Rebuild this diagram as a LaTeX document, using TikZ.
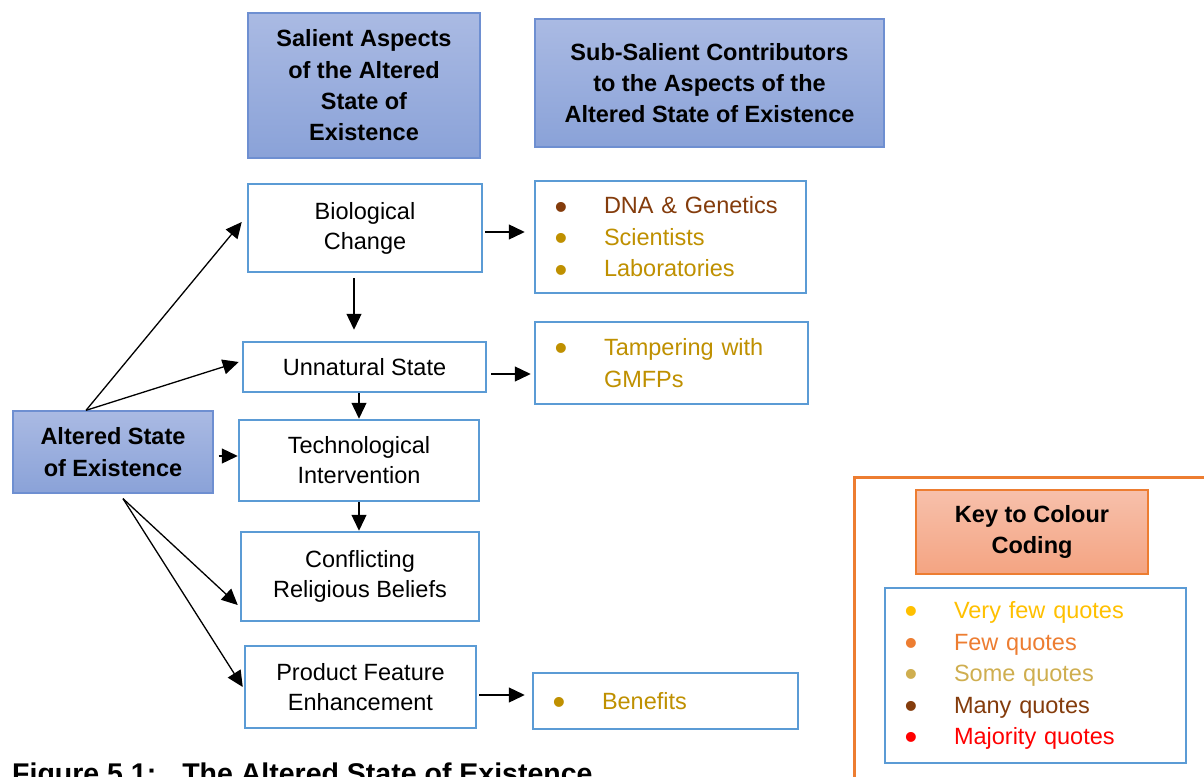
\documentclass[tikz,border=0pt]{standalone}
\usepackage{fontspec}
\setmainfont{Liberation Sans}
\usetikzlibrary{arrows.meta,calc}

\definecolor{boxblue}{HTML}{5B9BD5}
\definecolor{headtop}{HTML}{AABAE3}
\definecolor{headbot}{HTML}{8AA2D8}
\definecolor{headline}{HTML}{6E8FD1}
\definecolor{keytop}{HTML}{F7C0AB}
\definecolor{keybot}{HTML}{F4A482}
\definecolor{keyorange}{HTML}{ED7D31}
\definecolor{qbrown}{HTML}{843C0C}
\definecolor{qgold}{HTML}{BF9000}
\definecolor{qyellow}{HTML}{FFC000}
\definecolor{qsome}{HTML}{CFAE4F}
\definecolor{qred}{HTML}{FF0000}

% one coloured bullet line of a list
\newcommand\quoteitem[2]{\textcolor{#1}{\makebox[47pt][l]{\hspace{-2.5pt}\smash{\raisebox{-5.2pt}{\scalebox{1.55}{•}}}}#2}}

\tikzset{
  every node/.style={inner sep=0pt},
  aspect/.style={draw=boxblue, line width=2.5pt, fill=white, align=center,
    font=\fontsize{23.5}{30}\selectfont},
  heading/.style={draw=headline, line width=1.3pt, top color=headtop,
    bottom color=headbot, align=center,
    font=\bfseries\fontsize{23.5}{31.3}\selectfont},
  keyhead/.style={draw=keyorange, line width=1.3pt, top color=keytop,
    bottom color=keybot, align=center,
    font=\bfseries\fontsize{23.5}{31.3}\selectfont},
  listbox/.style={draw=boxblue, line width=2.5pt, fill=white, align=left,
    inner xsep=22pt, font=\fontsize{23.5}{31.5}\selectfont},
  arr/.style={-{Triangle[length=16pt,width=15pt]}, line width=1.3pt},
}

\begin{document}
\begin{tikzpicture}[x=1pt, y=-1pt]
\useasboundingbox (0,0) rectangle (1204,776);
\clip (0,0) rectangle (1204,776);

% column headings
\node[heading, minimum width=232, minimum height=145] (h1) at (364,85.5)
  {Salient Aspects\\of the Altered\\State of\\Existence};
\node[heading, minimum width=349, minimum height=128] (h2) at (709.5,83)
  {Sub-Salient Contributors\\to the Aspects of the\\Altered State of Existence};

% central concept
\node[heading, minimum width=200, minimum height=82] (alt) at (113,452)
  {Altered State\\of Existence};

% salient aspects
\node[aspect, minimum width=234, minimum height=88] (bio)  at (365,228)   {Biological\\Change};
\node[aspect, minimum width=243, minimum height=50] (unn)  at (364.5,367) {Unnatural State};
\node[aspect, minimum width=240, minimum height=81] (tech) at (359,460.5) {Technological\\Intervention};
\node[aspect, minimum width=238, minimum height=89] (conf) at (360,576.5) {Conflicting\\Religious Beliefs};
\node[aspect, minimum width=231, minimum height=82] (prod) at (360.5,687) {Product Feature\\Enhancement};

% sub-salient contributors
\node[listbox, text width=227, minimum height=112] (dna) at (670.5,237)
  {\quoteitem{qbrown}{DNA \& Genetics}\\\quoteitem{qgold}{Scientists}\\\quoteitem{qgold}{Laboratories}};
\node[listbox, text width=229, minimum height=82] (tamp) at (671.5,363)
  {\quoteitem{qgold}{Tampering with}\\\textcolor{qgold}{\hspace*{47pt}GMFPs}};
\node[listbox, text width=221, minimum height=56] (ben) at (665.5,701)
  {\quoteitem{qgold}{Benefits}};

% colour key
\node[draw=keyorange, line width=2.5pt, anchor=north west,
  minimum width=380, minimum height=330] (keyframe) at (853,476) {};
\node[keyhead, minimum width=232, minimum height=84] (keytitle) at (1032,532)
  {Key to Colour\\Coding};
\node[listbox, text width=257, minimum height=175] (keylist) at (1035.5,675.5)
  {\quoteitem{qyellow}{Very few quotes}\\\quoteitem{keyorange}{Few quotes}\\
   \quoteitem{qsome}{Some quotes}\\\quoteitem{qbrown}{Many quotes}\\
   \quoteitem{qred}{Majority quotes}};

% connectors from the central concept
\draw[arr] ([xshift=-27pt]alt.north) -- ([xshift=-5pt,yshift=6pt]bio.west);
\draw[arr] ([xshift=-27pt]alt.north) -- ([xshift=-3pt,yshift=5pt]unn.west);
\draw[arr] ([xshift=5pt,yshift=-4pt]alt.east) -- ($(alt.east -| tech.west)+(0pt,-4pt)$);
\draw[arr] ([xshift=10pt,yshift=-5pt]alt.south) -- ([xshift=-2pt,yshift=-28.5pt]conf.west);
\draw[arr] ([xshift=10pt,yshift=-5pt]alt.south) -- ([xshift=-1pt]prod.west);

% chain of aspects
\draw[arr] ([xshift=-11pt,yshift=-5pt]bio.south) -- ([xshift=-10.5pt,yshift=11pt]unn.north);
\draw[arr] (unn.south -| tech.north) -- (tech.north);
\draw[arr] (tech.south) -- (tech.south |- conf.north);

% aspects to contributors
\draw[arr] ([xshift=2pt,yshift=-4pt]bio.east) -- ($(bio.east -| dna.west)+(-9pt,-4pt)$);
\draw[arr] ([xshift=4pt,yshift=-7pt]unn.east) -- ($(unn.east -| tamp.west)+(-3pt,-7pt)$);
\draw[arr] ([xshift=2pt,yshift=-8pt]prod.east) -- ($(prod.east -| ben.west)+(-7pt,-8pt)$);

% caption
\node[anchor=base west, font=\bfseries\fontsize{28.5}{34}\selectfont] (caption) at (12,783)
  {Figure 5.1:\hspace{26pt}The Altered State of Existence};
\end{tikzpicture}
\end{document}
